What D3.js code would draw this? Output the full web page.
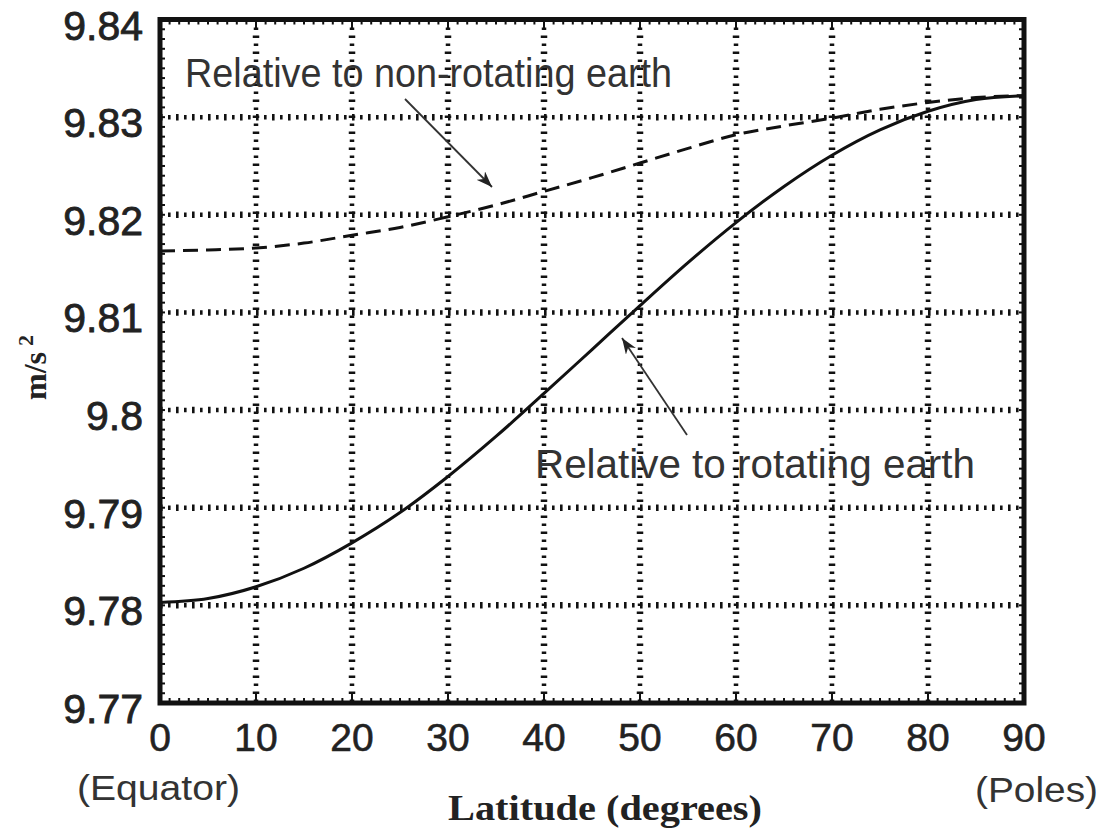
<!DOCTYPE html>
<html>
<head>
  <meta charset="utf-8">
  <title>Gravity vs latitude</title>
  <script src="https://d3js.org/d3.v7.min.js"></script>
  <style>
    body { margin: 0; background: #fff; }
    svg text { font-family: "Liberation Sans", Arial, sans-serif; }
  </style>
</head>
<body>
<script>
// latitude (degrees), every 5 degrees
var latitude = [0, 5, 10, 15, 20, 25, 30, 35, 40, 45, 50, 55, 60, 65, 70, 75, 80, 85, 90];
var nonRotating = [9.8163, 9.8164, 9.8166, 9.8171, 9.8179, 9.8187, 9.8198, 9.8210, 9.8224,
                   9.8238, 9.8253, 9.8268, 9.8282, 9.8291, 9.8299, 9.8308, 9.8315, 9.8320, 9.8322];
var rotating = [9.7803, 9.7807, 9.7819, 9.7838, 9.7864, 9.7895, 9.7932, 9.7973, 9.8017,
                9.8062, 9.8107, 9.8151, 9.8192, 9.8229, 9.8261, 9.8287, 9.8306, 9.8318, 9.8322];
var xTicks = [0, 10, 20, 30, 40, 50, 60, 70, 80, 90];
var yTicks = [9.77, 9.78, 9.79, 9.80, 9.81, 9.82, 9.83, 9.84];
var yTickLabels = ["9.77", "9.78", "9.79", "9.8", "9.81", "9.82", "9.83", "9.84"];

var W = 1101, H = 830;
var pLeft = 160, pRight = 1024, pTop = 19.5, pBottom = 703;

var svg = d3.select("body").append("svg")
    .attr("width", W).attr("height", H);

var x = d3.scaleLinear().domain([0, 90]).range([pLeft, pRight]);
var y = d3.scaleLinear().domain([9.77, 9.84]).range([pBottom, pTop]);

// dotted grid: thick and thin dashes alternate
function gridLayer(width, offset) {
  var g = svg.append("g").attr("stroke", "#111").attr("stroke-width", width)
      .attr("stroke-dasharray", "2.6,13.4").attr("stroke-dashoffset", offset);
  g.selectAll(".v").data(xTicks.slice(1, -1)).enter().append("line")
      .attr("x1", d => x(d)).attr("x2", d => x(d))
      .attr("y1", pTop).attr("y2", pBottom);
  g.selectAll(".h").data(yTicks.slice(1, -1)).enter().append("line")
      .attr("x1", pLeft).attr("x2", pRight)
      .attr("y1", d => y(d)).attr("y2", d => y(d));
}
gridLayer(6.5, 0);
gridLayer(4.5, 8);

// small inside ticks along the frame
var minorX = d3.range(1, 90);
var minorY = d3.range(1, 70).map(i => 9.77 + i * 0.001);
var ticks = svg.append("g").attr("stroke", "#111").attr("stroke-width", 2);
ticks.selectAll(".tb").data(minorX).enter().append("line")
    .attr("x1", d => x(d)).attr("x2", d => x(d))
    .attr("y1", pBottom).attr("y2", d => pBottom - (d % 10 === 0 ? 9 : 5));
ticks.selectAll(".tt").data(minorX).enter().append("line")
    .attr("x1", d => x(d)).attr("x2", d => x(d))
    .attr("y1", pTop).attr("y2", d => pTop + (d % 10 === 0 ? 9 : 5));
ticks.selectAll(".tl").data(minorY).enter().append("line")
    .attr("y1", d => y(d)).attr("y2", d => y(d))
    .attr("x1", pLeft).attr("x2", pLeft + 5);
ticks.selectAll(".tr").data(minorY).enter().append("line")
    .attr("y1", d => y(d)).attr("y2", d => y(d))
    .attr("x1", pRight).attr("x2", pRight - 5);

// curves
var line = d3.line().curve(d3.curveMonotoneX);
var ptsA = latitude.map((d, i) => [x(d), y(nonRotating[i])]);
var ptsB = latitude.map((d, i) => [x(d), y(rotating[i])]);

svg.append("path").attr("d", line(ptsA))
    .attr("fill", "none").attr("stroke", "#111").attr("stroke-width", 3)
    .attr("stroke-dasharray", "15,8");
svg.append("path").attr("d", line(ptsB))
    .attr("fill", "none").attr("stroke", "#111").attr("stroke-width", 3);

// frame
svg.append("rect")
    .attr("x", pLeft).attr("y", pTop)
    .attr("width", pRight - pLeft).attr("height", pBottom - pTop)
    .attr("fill", "none").attr("stroke", "#111").attr("stroke-width", 5);

// axis labels
svg.append("g").selectAll("text").data(yTicks).enter().append("text")
    .attr("x", 143).attr("y", d => y(d) + 20)
    .attr("text-anchor", "end")
    .attr("font-size", 41).attr("fill", "#222")
    .attr("stroke", "#222").attr("stroke-width", 0.8)
    .text((d, i) => yTickLabels[i]);
svg.append("g").selectAll("text").data(xTicks).enter().append("text")
    .attr("x", d => x(d)).attr("y", 751)
    .attr("text-anchor", "middle")
    .attr("font-size", 39).attr("fill", "#222")
    .attr("stroke", "#222").attr("stroke-width", 0.6)
    .text(d => d);

svg.append("text").attr("x", 77).attr("y", 800)
    .attr("font-size", 35).attr("fill", "#333")
    .attr("textLength", 163).attr("lengthAdjust", "spacingAndGlyphs")
    .text("(Equator)");
svg.append("text").attr("x", 975).attr("y", 802)
    .attr("font-size", 35).attr("fill", "#333")
    .attr("textLength", 123).attr("lengthAdjust", "spacingAndGlyphs")
    .text("(Poles)");

svg.append("text").attr("x", 448).attr("y", 820)
    .style("font-family", "'Liberation Serif', 'Times New Roman', serif")
    .attr("font-weight", "bold").attr("font-size", 36).attr("fill", "#222")
    .attr("textLength", 314).attr("lengthAdjust", "spacingAndGlyphs")
    .text("Latitude (degrees)");

var yl = svg.append("text")
    .attr("transform", "translate(46,400) rotate(-90)")
    .style("font-family", "'Liberation Serif', 'Times New Roman', serif")
    .attr("font-weight", "bold").attr("font-size", 32).attr("fill", "#222");
yl.append("tspan").text("m/s");
yl.append("tspan").attr("dx", 6).attr("dy", -13).attr("font-size", 22).text("2");

// annotations
svg.append("text").attr("x", 185).attr("y", 87)
    .attr("font-size", 41).attr("fill", "#333")
    .attr("textLength", 487).attr("lengthAdjust", "spacingAndGlyphs")
    .text("Relative to non-rotating earth");
svg.append("text").attr("x", 535).attr("y", 478)
    .attr("font-size", 41).attr("fill", "#333")
    .attr("textLength", 440).attr("lengthAdjust", "spacingAndGlyphs")
    .text("Relative to rotating earth");

svg.append("defs").append("marker")
    .attr("id", "head").attr("viewBox", "0 0 10 10")
    .attr("refX", 10).attr("refY", 5)
    .attr("markerWidth", 16).attr("markerHeight", 12)
    .attr("markerUnits", "userSpaceOnUse").attr("orient", "auto")
    .attr("preserveAspectRatio", "none")
    .append("path").attr("d", "M0,0 L10,5 L0,10 L3,5 Z").attr("fill", "#222");
var arrows = [[405, 99, 492, 187], [687, 435, 622, 338]];
svg.append("g").selectAll("line").data(arrows).enter().append("line")
    .attr("x1", d => d[0]).attr("y1", d => d[1])
    .attr("x2", d => d[2]).attr("y2", d => d[3])
    .attr("stroke", "#333").attr("stroke-width", 1.8)
    .attr("marker-end", "url(#head)");
</script>
</body>
</html>
